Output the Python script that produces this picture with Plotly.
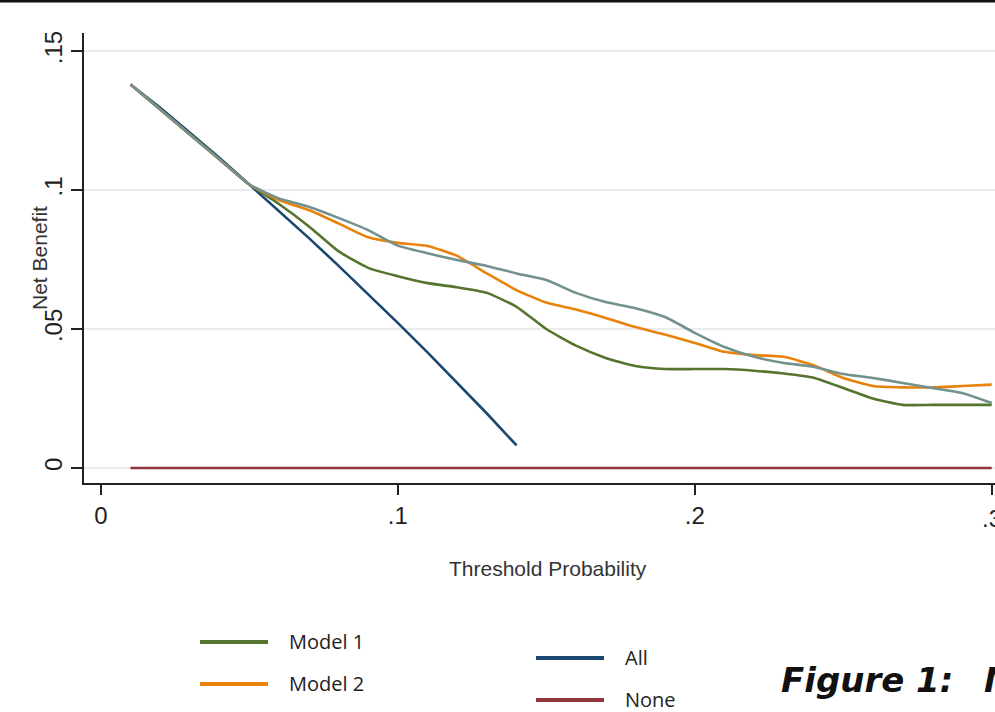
import plotly.graph_objects as go

# ---------------- data ----------------
thresholds = [0.01, 0.02, 0.03, 0.04, 0.05, 0.06, 0.07, 0.08, 0.09, 0.10,
              0.11, 0.12, 0.13, 0.14, 0.15, 0.16, 0.17, 0.18, 0.19, 0.20,
              0.21, 0.22, 0.23, 0.24, 0.25, 0.26, 0.27, 0.28, 0.29, 0.30]

model1 = [0.138, 0.129, 0.120, 0.111, 0.102, 0.095, 0.087, 0.078, 0.072, 0.069,
          0.0665, 0.065, 0.063, 0.058, 0.050, 0.044, 0.0396, 0.0367, 0.0356, 0.0356,
          0.0356, 0.035, 0.034, 0.0325, 0.0288, 0.025, 0.0227, 0.0227, 0.0227, 0.0227]

model2 = [0.138, 0.129, 0.120, 0.111, 0.102, 0.0964, 0.0928, 0.088, 0.083, 0.081,
          0.0799, 0.0763, 0.070, 0.064, 0.0595, 0.057, 0.054, 0.0507, 0.048, 0.045,
          0.0418, 0.0406, 0.040, 0.037, 0.0324, 0.0295, 0.029, 0.029, 0.0295, 0.030]

model3 = [0.138, 0.129, 0.120, 0.111, 0.102, 0.097, 0.094, 0.090, 0.0856, 0.080,
          0.0773, 0.0748, 0.0727, 0.070, 0.0676, 0.063, 0.0597, 0.0575, 0.0543, 0.0486,
          0.0435, 0.040, 0.0378, 0.0364, 0.0338, 0.0324, 0.0306, 0.0288, 0.027, 0.0234]

all_thresholds = [0.01, 0.02, 0.03, 0.04, 0.05, 0.06, 0.07, 0.08, 0.09, 0.10,
                  0.11, 0.12, 0.13, 0.14]
treat_all = [0.138, 0.1296, 0.1206, 0.1115, 0.102, 0.0925, 0.0828, 0.0728, 0.0626, 0.0522,
             0.0416, 0.0307, 0.0196, 0.0081]

none_values = [0.0] * len(thresholds)

x_tickvals = [0, 0.1, 0.2, 0.3]
x_ticktext = ["0", ".1", ".2", ".3"]
y_tickvals = [0, 0.05, 0.1, 0.15]
y_ticktext = ["0", ".05", ".1", ".15"]

legend_names = ["Model 1", "Model 2", "All", "None"]

# ---------------- style ----------------
C_M1 = "#55752f"
C_M2 = "#e8820a"
C_M3 = "#72918f"
C_ALL = "#1a476f"
C_NONE = "#90353b"

W, H = 995, 712
ML, MR, MT, MB = 84, 0, 33, 229
PW, PH = W - ML - MR, H - MT - MB


def px(xp):
    return (xp - ML) / PW


def py(yp):
    return (H - MB - yp) / PH


fig = go.Figure()
lw = 2.6
fig.add_trace(go.Scatter(x=all_thresholds, y=treat_all, mode="lines", name="All",
                         line=dict(color=C_ALL, width=lw)))
fig.add_trace(go.Scatter(x=thresholds, y=none_values, mode="lines", name="None",
                         line=dict(color=C_NONE, width=lw)))
fig.add_trace(go.Scatter(x=thresholds, y=model1, mode="lines", name="Model 1",
                         line=dict(color=C_M1, width=lw, shape="spline", smoothing=0.5)))
fig.add_trace(go.Scatter(x=thresholds, y=model2, mode="lines", name="Model 2",
                         line=dict(color=C_M2, width=lw, shape="spline", smoothing=0.5)))
fig.add_trace(go.Scatter(x=thresholds, y=model3, mode="lines", name="Model 3",
                         line=dict(color=C_M3, width=lw, shape="spline", smoothing=0.5)))

fig.update_layout(
    width=W, height=H,
    margin=dict(l=ML, r=MR, t=MT, b=MB, pad=0),
    paper_bgcolor="white", plot_bgcolor="white",
    showlegend=False,
    font=dict(family="Liberation Sans, Arial", color="#222222"),
)

fig.update_xaxes(
    range=[-0.00566, 0.3011],
    tickvals=x_tickvals, ticktext=x_ticktext,
    ticks="outside", ticklen=10, tickwidth=1.5, tickcolor="#222222",
    tickfont=dict(size=24, color="#222222"),
    showline=True, linecolor="#222222", linewidth=1.5,
    showgrid=False, zeroline=False,
)
fig.update_yaxes(
    range=[-0.0054, 0.1565],
    tickvals=y_tickvals, ticktext=y_ticktext,
    ticks="outside", ticklen=11, tickwidth=1.5, tickcolor="#222222",
    tickfont=dict(size=24, color="#222222"), tickangle=-90,
    showline=True, linecolor="#222222", linewidth=1.5,
    showgrid=True, gridcolor="#e8ecee", gridwidth=1.5, zeroline=False,
)

annotations = [
    dict(text="Threshold Probability", x=px(548), y=py(568), xref="paper", yref="paper",
         showarrow=False, font=dict(size=21, color="#333333"), xanchor="center", yanchor="middle"),
    dict(text="Net Benefit", x=px(39), y=py(258), xref="paper", yref="paper", textangle=-90,
         showarrow=False, font=dict(size=21, color="#333333"), xanchor="center", yanchor="middle"),
    dict(text="<b><i>Figure 1:</i></b>", x=px(779), y=py(680),
         xref="paper", yref="paper", showarrow=False, xanchor="left", yanchor="middle",
         font=dict(family="DejaVu Sans", size=34, color="#111111")),
    dict(text="<b><i>Model</i></b>", x=px(982), y=py(680),
         xref="paper", yref="paper", showarrow=False, xanchor="left", yanchor="middle",
         font=dict(family="DejaVu Sans", size=34, color="#111111")),
    # last x tick label, partly cut by the right edge as in the reference
    dict(text=x_ticktext[-1], x=x_tickvals[-1], y=py(518), xref="x", yref="paper",
         showarrow=False, xanchor="center", yanchor="middle",
         font=dict(size=24, color="#222222")),
]

shapes = [
    dict(type="line", xref="paper", yref="paper", x0=px(0), x1=px(W), y0=py(1), y1=py(1),
         line=dict(color="#111111", width=3)),
]

# legend built from the trace names and colours
legend_items = [
    (legend_names[0], C_M1, 200, 268, 287, 642),
    (legend_names[1], C_M2, 200, 268, 287, 684),
    (legend_names[2], C_ALL, 536, 604, 623, 658),
    (legend_names[3], C_NONE, 536, 604, 623, 700),
]
for name, col, x0, x1, xt, yc in legend_items:
    shapes.append(dict(type="line", xref="paper", yref="paper", x0=px(x0), x1=px(x1),
                       y0=py(yc), y1=py(yc), line=dict(color=col, width=4)))
    annotations.append(dict(text=name, x=px(xt), y=py(yc - 1), xref="paper", yref="paper",
                            showarrow=False, xanchor="left", yanchor="middle",
                            font=dict(family="Open Sans, Liberation Sans", size=20,
                                      color="#222222")))

fig.update_layout(annotations=annotations, shapes=shapes)

fig.write_html("out.html", config={"displayModeBar": False},
               post_script="document.body.style.margin='0px';document.body.style.overflow='hidden';")
